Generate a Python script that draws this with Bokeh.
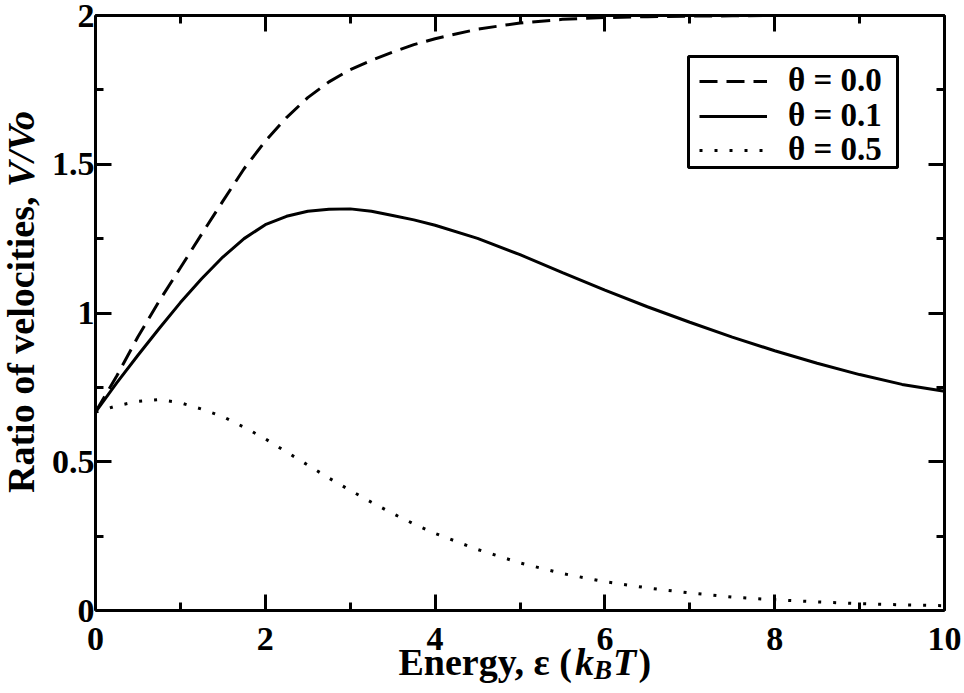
import math
from bokeh.plotting import figure
from bokeh.models import (Range1d, LinearAxis, FixedTicker, Legend, LegendItem, Label,
                          BoxAnnotation)
from bokeh.embed import file_html
from bokeh.resources import INLINE

# ---- data ----
energy = [0, 0.25, 0.5, 0.75, 1, 1.25, 1.5, 1.75, 2, 2.25, 2.5, 2.75, 3, 3.25,
          3.5, 3.75, 4, 4.5, 5, 5.5, 6, 6.5, 7, 7.5, 8, 8.5, 9, 9.5, 10]
theta_00 = [0.667, 0.788, 0.920, 1.040, 1.152, 1.265, 1.376, 1.485, 1.578, 1.657,
            1.724, 1.777, 1.818, 1.849, 1.877, 1.902, 1.922, 1.954, 1.975, 1.987,
            1.993, 1.996, 1.998, 1.999, 2.0, 2.0, 2.0, 2.0, 2.0]
theta_01 = [0.667, 0.765, 0.858, 0.948, 1.035, 1.115, 1.188, 1.250, 1.297, 1.325,
            1.342, 1.349, 1.350, 1.342, 1.328, 1.313, 1.295, 1.251, 1.196, 1.136,
            1.077, 1.021, 0.969, 0.919, 0.873, 0.831, 0.793, 0.760, 0.737]
theta_05 = [0.667, 0.688, 0.703, 0.709, 0.698, 0.677, 0.652, 0.616, 0.577, 0.533,
            0.489, 0.445, 0.404, 0.364, 0.326, 0.291, 0.259, 0.205, 0.160, 0.124,
            0.097, 0.076, 0.059, 0.045, 0.036, 0.029, 0.023, 0.019, 0.016]
series_labels = ["θ = 0.0", "θ = 0.1", "θ = 0.5"]
series_dashes = ["18 9", "solid", "3 12"]

x_limits = (0, 10)
y_limits = (0, 2)
x_ticks = [0, 2, 4, 6, 8, 10]
x_minor_ticks = [1, 3, 5, 7, 9]
y_ticks = [0, 0.5, 1, 1.5, 2]
y_tick_labels = ["0", "0.5", "1", "1.5", "2"]
y_minor_ticks = [0.25, 0.75, 1.25, 1.75]

x_title_parts = ["Energy, ε (", "k", "B", "T", ")"]
y_title_parts = ["Ratio of velocities, ", "V/Vo"]

FONT = "Liberation Serif"
TICK_SIZE = "34px"
TITLE_SIZE = "38px"

# ---- canvas geometry (pixels inside the canvas) ----
W, H = 964, 693
AX_L, AX_R, AX_T, AX_B = 95, 944, 15, 610   # where the plotted box sits
sx = (AX_R - AX_L) / (x_limits[1] - x_limits[0])
sy = (AX_B - AX_T) / (y_limits[1] - y_limits[0])
x_range = Range1d(x_limits[0] - AX_L / sx, x_limits[1] + (W - AX_R) / sx)
y_range = Range1d(y_limits[0] - (H - AX_B) / sy, y_limits[1] + AX_T / sy)

p = figure(width=W, height=H, output_backend="svg", toolbar_location=None,
           x_range=x_range, y_range=y_range,
           x_axis_location=None, y_axis_location=None, min_border=0)
p.outline_line_color = None
p.background_fill_color = "white"
p.border_fill_color = "white"
p.grid.visible = False


def style_axis(ax, loc, bounds):
    ax.fixed_location = loc
    ax.bounds = bounds
    ax.axis_line_width = 3
    ax.axis_line_color = "black"
    ax.major_tick_in = 16
    ax.major_tick_out = 0
    ax.major_tick_line_width = 3
    ax.minor_tick_out = 0
    ax.minor_tick_line_width = 3
    ax.major_label_standoff = 0
    ax.axis_label_standoff = 0
    return ax


def label_axis(ticks, minor, labels, standoff, loc, bounds):
    ax = style_axis(LinearAxis(ticker=FixedTicker(ticks=ticks, minor_ticks=minor)), loc, bounds)
    ax.minor_tick_in = 8
    ax.major_label_text_font = FONT
    ax.major_label_text_font_style = "bold"
    ax.major_label_text_font_size = TICK_SIZE
    ax.major_label_text_color = "black"
    ax.major_label_standoff = standoff
    if labels is not None:
        ax.major_label_overrides = {t: l for t, l in zip(ticks, labels)}
    return ax


def mirror_axis(positions, length, loc, bounds):
    # unlabeled mirror axis: only tick marks of the given length
    ax = style_axis(LinearAxis(ticker=FixedTicker(ticks=[], minor_ticks=positions)), loc, bounds)
    ax.minor_tick_in = length
    return ax


p.add_layout(label_axis(x_ticks, x_minor_ticks, None, 17, y_limits[0], x_limits), "below")
p.add_layout(label_axis(y_ticks, y_minor_ticks, y_tick_labels, 1, x_limits[0], y_limits), "left")
p.add_layout(mirror_axis(x_ticks, 16, y_limits[1], x_limits), "above")
p.add_layout(mirror_axis(x_minor_ticks, 8, y_limits[1], x_limits), "above")
p.add_layout(mirror_axis(y_ticks, 16, x_limits[1], y_limits), "right")
p.add_layout(mirror_axis(y_minor_ticks, 8, x_limits[1], y_limits), "right")

renderers = []
for ys, dash in zip([theta_00, theta_01, theta_05], series_dashes):
    renderers.append(p.line(energy, ys, line_width=3, line_color="black", line_dash=dash))

# legend frame (screen px from the canvas bottom-left)
p.add_layout(BoxAnnotation(left=688, right=897, bottom=526, top=637,
                           left_units="screen", right_units="screen",
                           bottom_units="screen", top_units="screen",
                           fill_color="white", fill_alpha=1.0,
                           line_color="black", line_width=3, line_alpha=1.0))
row_bottoms = [594, 559, 525]
for lab, r, vy in zip(series_labels, renderers, row_bottoms):
    p.add_layout(Legend(items=[LegendItem(label=lab, renderers=[r])],
                        location=(699, vy), margin=0, padding=0, spacing=0,
                        glyph_width=68, glyph_height=30, label_height=30,
                        label_standoff=21,
                        label_text_font=FONT, label_text_font_style="bold",
                        label_text_font_size="33px", label_text_color="black",
                        border_line_color=None, background_fill_alpha=0))

# x axis title pieces
x_pos = [398, 574.5, 593.5, 612.5, 638]
x_base = [32, 32, 24, 32, 32]
x_styles = ["bold", "bold italic", "bold italic", "bold italic", "bold"]
x_sizes = [TITLE_SIZE, TITLE_SIZE, "27px", TITLE_SIZE, TITLE_SIZE]
for t, xs, ys, st, sz in zip(x_title_parts, x_pos, x_base, x_styles, x_sizes):
    p.add_layout(Label(x=xs, y=ys, x_units="screen", y_units="screen",
                       text=t, text_font=FONT, text_font_style=st, text_font_size=sz,
                       text_color="black", text_align="left", text_baseline="alphabetic"))

# y axis title pieces (rotated)
y_pos = [200.5, 506.5]
y_styles = ["bold", "bold italic"]
for t, ys, st in zip(y_title_parts, y_pos, y_styles):
    p.add_layout(Label(x=20, y=ys, x_units="screen", y_units="screen",
                       angle=math.pi / 2, text=t, text_font=FONT, text_font_style=st,
                       text_font_size=TITLE_SIZE, text_color="black",
                       text_align="left", text_baseline="alphabetic"))

open("out.html", "w").write(file_html(p, INLINE))
